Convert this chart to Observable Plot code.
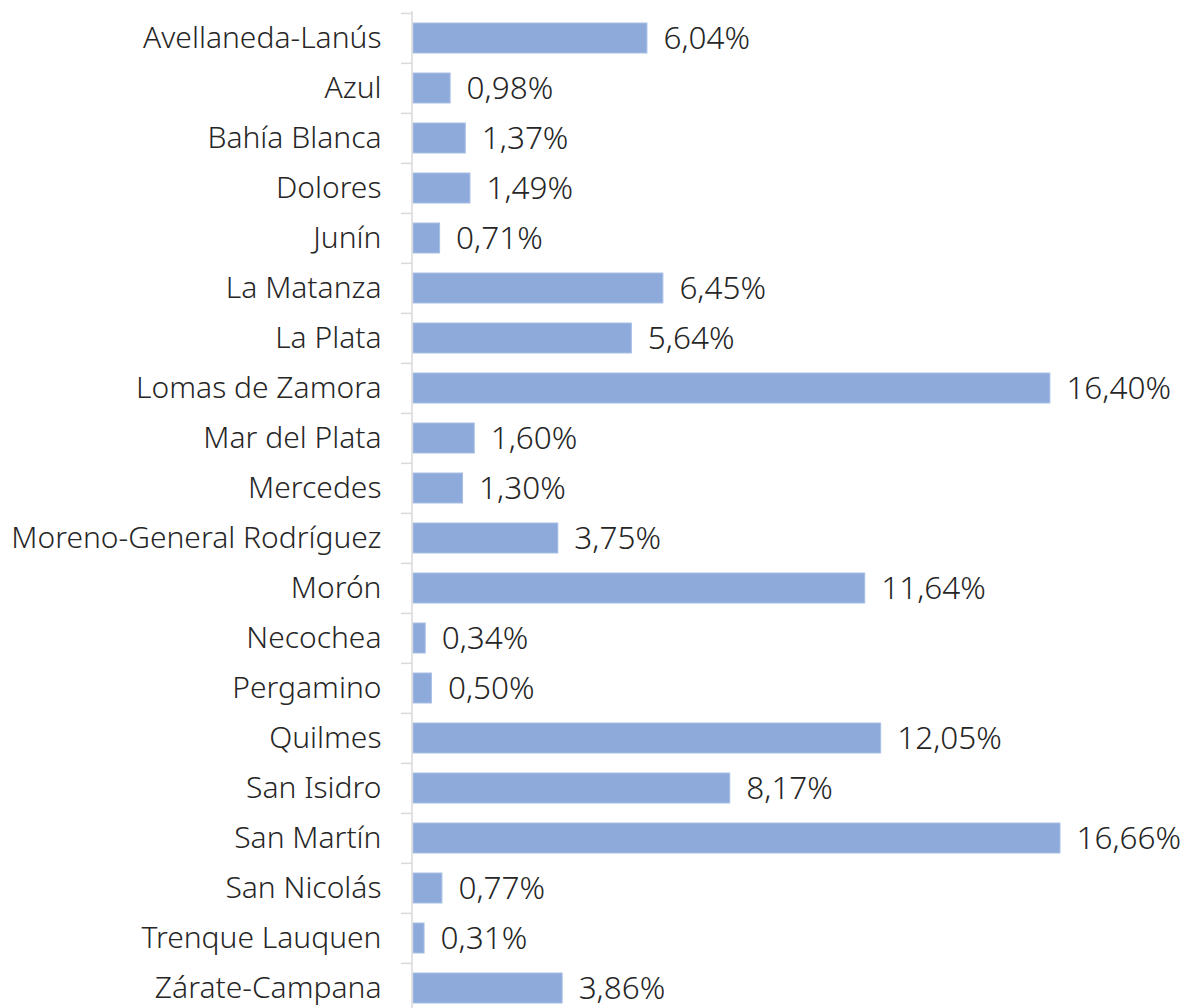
<!DOCTYPE html>
<html>
<head>
<meta charset="utf-8">
<script src="https://cdn.jsdelivr.net/npm/d3@7"></script>
<script src="https://cdn.jsdelivr.net/npm/@observablehq/plot@0.6"></script>
<style>
  html, body { margin: 0; padding: 0; background: #fff; overflow: hidden; }
  #chart svg { display: block; }
</style>
</head>
<body>
<div id="chart"></div>
<script>
const categories = [
  "Avellaneda-Lanús", "Azul", "Bahía Blanca", "Dolores", "Junín",
  "La Matanza", "La Plata", "Lomas de Zamora", "Mar del Plata", "Mercedes",
  "Moreno-General Rodríguez", "Morón", "Necochea", "Pergamino", "Quilmes",
  "San Isidro", "San Martín", "San Nicolás", "Trenque Lauquen", "Zárate-Campana"
];
const values = [
  6.04, 0.98, 1.37, 1.49, 0.71,
  6.45, 5.64, 16.40, 1.60, 1.30,
  3.75, 11.64, 0.34, 0.50, 12.05,
  8.17, 16.66, 0.77, 0.31, 3.86
];

const data = categories.map((c, i) => ({category: c, value: values[i]}));
const fmt = v => v.toFixed(2).replace(".", ",") + "%";

const H = 1015, mt = 11, mb = 0;
const step = (H - mt - mb) / categories.length;

const chart = Plot.plot({
  width: 1193,
  height: H,
  marginTop: mt,
  marginBottom: mb,
  marginLeft: 412,
  marginRight: 133,
  style: {fontFamily: "'Noto Sans', sans-serif", fontWeight: 300, background: "#fff"},
  x: {domain: [0, 16.66], axis: null},
  y: {domain: categories, paddingInner: 0.4, paddingOuter: 0.2, axis: null},
  marks: [
    Plot.barX(data, {x: "value", y: "category", fill: "#8eaadb", stroke: "#a9c0e6", strokeWidth: 1, insetLeft: 1}),
    Plot.ruleX([0], {stroke: "#d9d9d9", strokeWidth: 1.5, dx: -0.5}),
    Plot.axisY({tickSize: 11, dy: -step / 2, tickFormat: () => "", label: null, stroke: "#d9d9d9", strokeWidth: 1.5}),
    Plot.axisY({tickSize: 0, tickPadding: 31, fontSize: 30, fontWeight: 300, label: null, fill: "#262626"}),
    Plot.text(data, {x: "value", y: "category", text: d => fmt(d.value), textAnchor: "start", dx: 16, fontSize: 31.5, fontWeight: 300, fill: "#262626"})
  ]
});
document.getElementById("chart").appendChild(chart);
</script>
</body>
</html>
